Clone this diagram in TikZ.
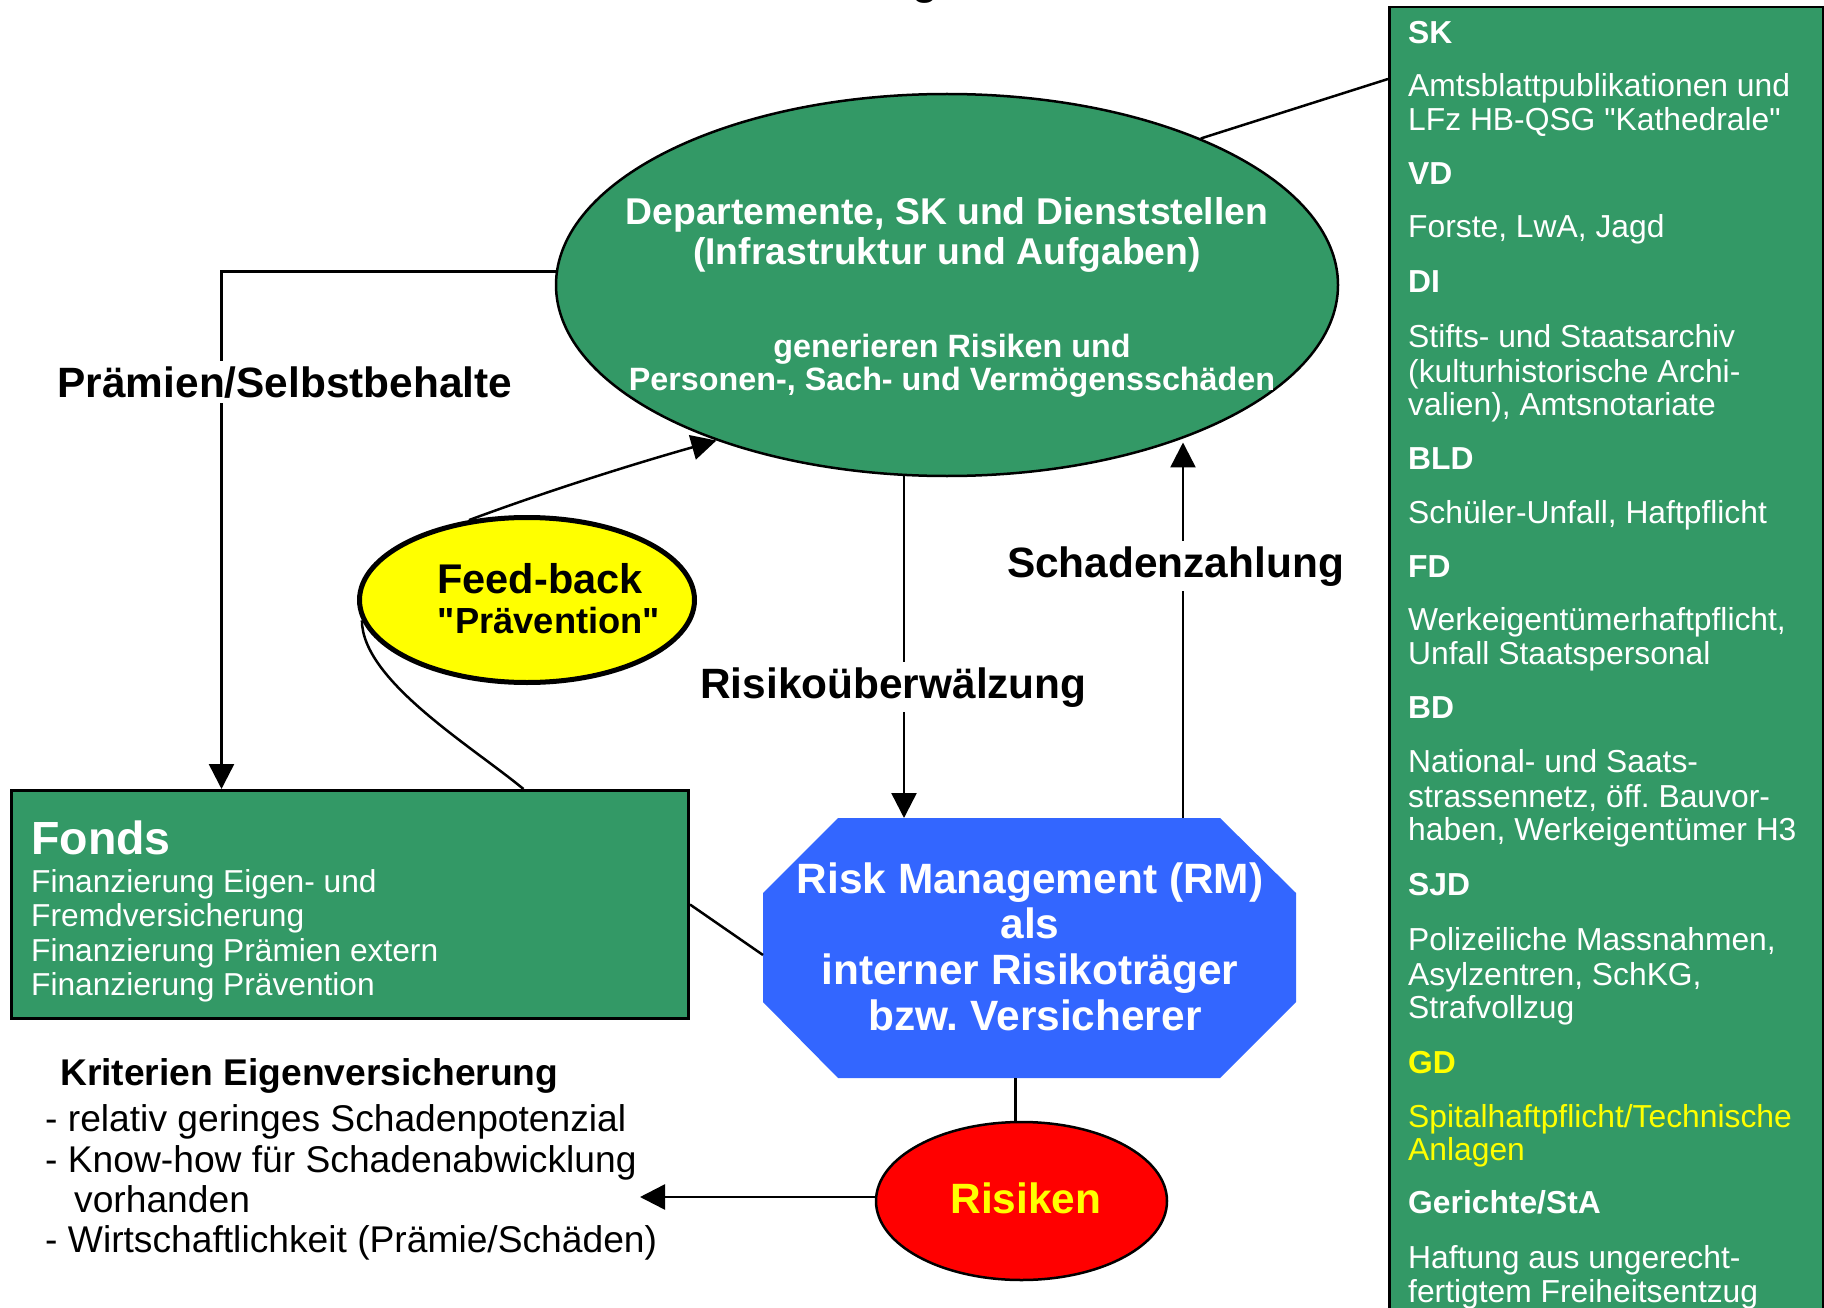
\documentclass[tikz,border=0pt]{standalone}
\usepackage{fontspec}
\setmainfont{Liberation Sans}[Ligatures=TeXOff]
\usetikzlibrary{arrows.meta,shapes.geometric}
\definecolor{pgreen}{RGB}{51,153,102}
\definecolor{pblue}{RGB}{51,102,255}
\definecolor{pyellow}{RGB}{255,255,0}
\definecolor{pred}{RGB}{255,0,0}
\newcommand{\fsz}[1]{\fontsize{#1}{#1}\selectfont}
\frenchspacing
\begin{document}
\begin{tikzpicture}[x=1pt,y=-1pt,
  conn/.style={line width=2.5pt},
  arr/.style={line width=2.5pt,-{Triangle[length=25pt,width=25pt]}},
  ptxt/.style={anchor=base west,inner sep=0pt,text=white,font=\fsz{31.8}},
  phead/.style={anchor=base west,inner sep=0pt,text=white,font=\fsz{31.8}\bfseries},
  lbl/.style={anchor=base,fill=white,inner sep=5pt,font=\fsz{42.4}\bfseries},
  eltxt/.style={anchor=base,inner sep=0pt,text=white,font=\fsz{37.3}\bfseries},
  rmtxt/.style={anchor=base,inner sep=0pt,text=white,font=\fsz{42.4}\bfseries},
  ktxt/.style={anchor=base west,inner sep=0pt,font=\fsz{37.2}},
  ftxt/.style={anchor=base west,inner sep=0pt,text=white,font=\fsz{31.7}}
]
\useasboundingbox (0,0) rectangle (1824,1308);

% cut-off title fragment
\node[anchor=base,inner sep=0pt,font=\fsz{42}\bfseries] (title) at (925,-5) {g};

% right panel
\node[draw,line width=2.5pt,fill=pgreen,anchor=north west,minimum width=434pt,minimum height=1330pt,inner sep=0pt] (panel) at (1388,6) {};
\node[phead] (hSK) at (1408,44) {SK};
\node[ptxt] (b1) at (1408,97) {Amtsblattpublikationen und};
\node[ptxt] (b2) at (1408,131) {LFz HB-QSG "Kathedrale"};
\node[phead] (hVD) at (1408,185) {VD};
\node[ptxt] (b3) at (1408,238) {Forste, LwA, Jagd};
\node[phead] (hDI) at (1408,292) {DI};
\node[ptxt] (b4) at (1408,347) {Stifts- und Staatsarchiv};
\node[ptxt] (b5) at (1408,382) {(kulturhistorische Archi-};
\node[ptxt] (b6) at (1408,415) {valien), Amtsnotariate};
\node[phead] (hBLD) at (1408,469) {BLD};
\node[ptxt] (b7) at (1408,523) {Schüler-Unfall, Haftpflicht};
\node[phead] (hFD) at (1408,577) {FD};
\node[ptxt] (b8) at (1408,630) {Werkeigentümerhaftpflicht,};
\node[ptxt] (b9) at (1408,664) {Unfall Staatspersonal};
\node[phead] (hBD) at (1408,718) {BD};
\node[ptxt] (b10) at (1408,772) {National- und Saats-};
\node[ptxt] (b11) at (1408,807) {strassennetz, öff. Bauvor-};
\node[ptxt] (b12) at (1408,840) {haben, Werkeigentümer H3};
\node[phead] (hSJD) at (1408,895) {SJD};
\node[ptxt] (b13) at (1408,950) {Polizeiliche Massnahmen,};
\node[ptxt] (b14) at (1408,985) {Asylzentren, SchKG,};
\node[ptxt] (b15) at (1408,1018) {Strafvollzug};
\node[phead,text=pyellow] (hGD) at (1408,1073) {GD};
\node[ptxt,text=pyellow] (b16) at (1408,1127) {Spitalhaftpflicht/Technische};
\node[ptxt,text=pyellow] (b17) at (1408,1160) {Anlagen};
\node[phead] (hGer) at (1408,1213) {Gerichte/StA};
\node[ptxt] (b18) at (1408,1268) {Haftung aus ungerecht-};
\node[ptxt] (b19) at (1408,1302) {fertigtem Freiheitsentzug};

% main ellipse
\node[ellipse,draw,line width=2.5pt,fill=pgreen,minimum width=782pt,minimum height=382pt,inner sep=0pt] (ell1) at (947,285) {};
\node[eltxt] (e1a) at (947,225) {Departemente, SK und Dienststellen};
\node[eltxt] (e1b) at (947,265) {(Infrastruktur und Aufgaben)};
\node[eltxt,font=\fsz{32.3}\bfseries] (e1c) at (952,357) {generieren Risiken und};
\node[eltxt,font=\fsz{32.3}\bfseries] (e1d) at (952,390) {Personen-, Sach- und Vermögensschäden};

% Fonds box
\node[draw,line width=3pt,fill=pgreen,anchor=north west,minimum width=677pt,minimum height=228pt,inner sep=0pt] (fonds) at (10,789) {};
\node[anchor=base west,inner sep=0pt,text=white,font=\fsz{46.5}\bfseries] (fondsT) at (31,854) {Fonds};
\node[ftxt] (f1) at (31,892) {Finanzierung Eigen- und};
\node[ftxt] (f2) at (31,926.5) {Fremdversicherung};
\node[ftxt] (f3) at (31,961) {Finanzierung Prämien extern};
\node[ftxt] (f4) at (31,995.5) {Finanzierung Prävention};

% Feed-back ellipse
\node[ellipse,draw,line width=5pt,fill=pyellow,minimum width=335pt,minimum height=165pt,inner sep=0pt] (fb) at (527,600) {};
\node[anchor=base,inner sep=0pt,font=\fsz{41.5}\bfseries] (fbA) at (540,593) {Feed-back};
\node[anchor=base,inner sep=0pt,font=\fsz{36.3}\bfseries] (fbB) at (549,633) {"Prävention"};

% Risk management octagon
\node[minimum width=533pt,minimum height=260pt,inner sep=0pt,outer sep=0pt] (rm) at (1029.5,948) {};
\fill[pblue] (838,818) -- (1220,818) -- (1296,893) -- (1296,1002) -- (1220,1078) -- (838,1078) -- (763,1002) -- (763,893) -- cycle;
\node[rmtxt] (rm1) at (1030,893) {Risk Management (RM)};
\node[rmtxt] (rm2) at (1030,938) {als};
\node[rmtxt] (rm3) at (1030,984) {interner Risikoträger};
\node[rmtxt] (rm4) at (1035,1030) {bzw. Versicherer};

% Risiken ellipse
\node[ellipse,draw,line width=2.5pt,fill=pred,minimum width=291pt,minimum height=158pt,inner sep=0pt] (risk) at (1021.5,1201) {};
\node[anchor=base,inner sep=0pt,text=pyellow,font=\fsz{42.4}\bfseries] (riskT) at (1026,1213) {Risiken};

% Kriterien text
\node[anchor=base west,inner sep=0pt,font=\fsz{37.2}\bfseries] (kh) at (60,1085) {Kriterien Eigenversicherung};
\node[ktxt] (k1) at (45,1131) {- relativ geringes Schadenpotenzial};
\node[ktxt] (k2) at (45,1172) {- Know-how für Schadenabwicklung};
\node[ktxt] (k3) at (74,1212) {vorhanden};
\node[ktxt] (k4) at (45,1252) {- Wirtschaftlichkeit (Prämie/Schäden)};
\coordinate (kritpt) at (640,1197);

% connectors
\draw[conn] (ell1.30.4) -- ([yshift=-73pt]panel.north west);
\draw[arr] (ell1.178.5) -| ([xshift=-128.5pt]fonds.north);
\draw[conn] ([xshift=173.5pt]fonds.north) .. controls (470,745) and (362,680) .. (fb.187);
\draw[arr] (fb.126) .. controls (553,489) and (637,463) .. (ell1.214.6);
\draw[arr] ([xshift=-125.5pt]rm.north |- ell1.257.3) -- ([xshift=-125.5pt]rm.north);
\draw[arr] ([xshift=153.5pt]rm.north) -- ([xshift=153.5pt]rm.north |- ell1.325.5);
\draw[conn] (fonds.east) -- ([yshift=-7pt]rm.west);
\draw[conn] ([xshift=-6pt]risk.north |- rm.south) -- ([xshift=-6pt]risk.north);
\draw[arr] (risk.west |- kritpt) -- (kritpt);

% connector labels
\node[lbl] (lPraem) at (285,397) {Prämien/Selbstbehalte};
\node[lbl] (lRisk) at (893.5,698) {Risikoüberwälzung};
\node[lbl] (lSchad) at (1175.5,577) {Schadenzahlung};
\end{tikzpicture}
\end{document}
